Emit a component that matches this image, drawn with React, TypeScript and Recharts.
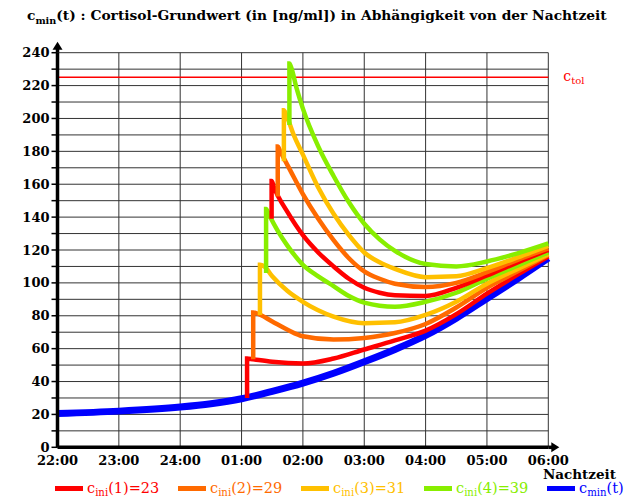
import { LineChart, Line, XAxis, YAxis, CartesianGrid, ReferenceLine, ReferenceDot } from 'recharts'

// hours after 22:00
const hourTicks = [0, 1, 2, 3, 4, 5, 6, 7, 8]
const hourLabels = ['22:00', '23:00', '24:00', '01:00', '02:00', '03:00', '04:00', '05:00', '06:00']
const yTicks = [0, 10, 20, 30, 40, 50, 60, 70, 80, 90, 100, 110, 120, 130, 140, 150, 160, 170, 180, 190, 200, 210, 220, 230, 240]
const cTol = 225
const cIni = [23, 29, 31, 39]

// c_min(t): baseline
const cMinT = [0, 1, 2, 2.5, 3, 3.5, 4, 4.5, 5, 5.5, 6, 6.5, 7, 7.5, 8]
const cMinV = [20.5, 22, 24.5, 26.5, 29.5, 34, 39, 45, 52, 59.5, 68, 78.5, 90.5, 102.5, 115]

// first round of doses
const red1T = [3.09, 3.09, 3.19, 3.5, 4, 4.5, 5, 5.5, 6, 6.5, 7, 7.5, 8]
const red1V = [30, 54, 53.5, 52, 51, 54, 59.5, 65, 71, 81, 93.5, 105, 116]
const orange1T = [3.19, 3.19, 3.25, 3.5, 3.75, 4, 4.5, 5, 5.5, 6, 6.5, 7, 7.5, 8]
const orange1V = [53.5, 82, 81.5, 76.5, 71.5, 67.5, 65.5, 66.5, 69.5, 75, 85, 97, 107, 117]
const yellow1T = [3.3, 3.3, 3.37, 3.5, 3.75, 4, 4.5, 5, 5.5, 6, 6.5, 7, 7.5, 8]
const yellow1V = [80.5, 111, 110, 104, 95, 88.5, 79.5, 75.5, 76, 80.5, 88.5, 99.5, 108.5, 117.5]
const green1T = [3.4, 3.4, 3.44, 3.6, 3.75, 4, 4.25, 4.5, 4.75, 5, 5.5, 6, 6.5, 7, 7.5, 8]
const green1V = [106, 145, 142, 131, 122.5, 111, 104, 98, 92, 88, 85.5, 88.5, 94, 102.5, 110.5, 118.5]

// second round of doses
const red2T = [3.49, 3.49, 3.53, 3.75, 4, 4.25, 4.5, 4.75, 5, 5.25, 5.5, 6, 6.5, 7, 7.5, 8]
const red2V = [139, 162, 158, 143, 129, 118.5, 110, 102.5, 97, 94, 92.5, 92, 97, 104.5, 112.5, 120]
const orange2T = [3.59, 3.59, 3.63, 3.8, 4, 4.25, 4.5, 4.75, 5, 5.25, 5.5, 6, 6.5, 7, 7.5, 8]
const orange2V = [152.5, 183, 180, 168, 154, 139, 126, 115, 107, 102.5, 99.5, 97.5, 100, 106.5, 114, 121]
const yellow2T = [3.69, 3.69, 3.73, 3.85, 4, 4.25, 4.5, 4.75, 5, 5.25, 5.5, 6, 6.5, 7, 7.5, 8]
const yellow2V = [174, 205, 202, 190, 178, 158, 142, 129, 118.5, 112.5, 108.5, 103.5, 104, 109, 115.5, 122.5]
const green2T = [3.78, 3.78, 3.81, 3.9, 4, 4.25, 4.5, 4.75, 5, 5.25, 5.5, 6, 6.5, 7, 7.5, 8]
const green2V = [196, 233.5, 231, 218, 206, 183, 165, 149, 136, 126.5, 119.5, 111.5, 110, 113, 118, 124]

const RED = '#ff0000'
const ORANGE = '#ff6a00'
const YELLOW = '#ffc000'
const GREEN = '#88ee00'
const BLUE = '#0000ff'
const FONT = '"DejaVu Serif", "Liberation Serif", serif'

const pts = (ts: number[], vs: number[]) => ts.map((t, i) => ({ t, v: vs[i] }))

const curves = [
  { key: 'red1', color: RED, data: pts(red1T, red1V) },
  { key: 'orange1', color: ORANGE, data: pts(orange1T, orange1V) },
  { key: 'yellow1', color: YELLOW, data: pts(yellow1T, yellow1V) },
  { key: 'green1', color: GREEN, data: pts(green1T, green1V) },
  { key: 'red2', color: RED, data: pts(red2T, red2V) },
  { key: 'orange2', color: ORANGE, data: pts(orange2T, orange2V) },
  { key: 'yellow2', color: YELLOW, data: pts(yellow2T, yellow2V) },
  { key: 'green2', color: GREEN, data: pts(green2T, green2V) },
]

const legendColors = [RED, ORANGE, YELLOW, GREEN]
const legendLeft = [55, 178, 301, 424, 547]

const subStyle = { fontSize: '70%', verticalAlign: '-4px', lineHeight: 0 }
const legendSub = { fontSize: '70%', verticalAlign: '-3px', lineHeight: 0 }

function CtolLabel(props: any) {
  const vb = props.viewBox || {}
  const x = vb.x + vb.width + 15
  const y = vb.y + 4
  return (
    <text x={x} y={y} fill={RED} fontFamily={FONT} fontSize={14}>
      c<tspan fontSize={10} dy={3}>tol</tspan>
    </text>
  )
}

const xArrow = (p: any) => (
  <g>
    <line x1={p.cx} y1={p.cy} x2={p.cx + 6} y2={p.cy} stroke="#000" strokeWidth={3.5} />
    <path d={`M${p.cx + 3},${p.cy - 5} L${p.cx + 11},${p.cy} L${p.cx + 3},${p.cy + 5} Z`} fill="#000" />
  </g>
)

const yArrow = (p: any) => (
  <g>
    <line x1={p.cx} y1={p.cy} x2={p.cx} y2={p.cy - 6} stroke="#000" strokeWidth={3.5} />
    <path d={`M${p.cx - 5},${p.cy - 3} L${p.cx},${p.cy - 11} L${p.cx + 5},${p.cy - 3} Z`} fill="#000" />
  </g>
)

export default function App() {
  return (
    <div style={{ position: 'absolute', left: 0, top: 0, width: 624, height: 499, overflow: 'hidden', background: '#fff' }}>
      <LineChart width={624} height={499} margin={{ top: 52.7, right: 75.7, left: 7.5, bottom: 21.7 }}>
        <CartesianGrid stroke="#333" strokeWidth={1} />
        <XAxis
          dataKey="t"
          type="number"
          domain={[0, 8]}
          ticks={hourTicks}
          tickFormatter={(v: number) => hourLabels[v]}
          height={30}
          tickLine={false}
          tickSize={0}
          tickMargin={8}
          axisLine={{ stroke: '#000', strokeWidth: 3.5 }}
          tick={{ fontSize: 13, fontWeight: 'bold', fill: '#000', fontFamily: FONT }}
          interval={0}
        />
        <YAxis
          type="number"
          domain={[0, 240]}
          ticks={yTicks}
          tickFormatter={(v: number) => (v % 20 === 0 ? String(v) : '')}
          width={50}
          tickSize={6}
          tickMargin={2}
          tickLine={{ stroke: '#000', strokeWidth: 1.5 }}
          axisLine={{ stroke: '#000', strokeWidth: 3.5 }}
          tick={{ fontSize: 13, fontWeight: 'bold', fill: '#000', fontFamily: FONT }}
          interval={0}
        />
        <ReferenceLine y={cTol} stroke={RED} strokeWidth={1.5} label={CtolLabel} />
        <Line
          data={pts(cMinT, cMinV)}
          dataKey="v"
          type="monotone"
          stroke={BLUE}
          strokeWidth={7}
          dot={false}
          activeDot={false}
          isAnimationActive={false}
        />
        {curves.map(c => (
          <Line
            key={c.key}
            data={c.data}
            dataKey="v"
            type="monotone"
            stroke={c.color}
            strokeWidth={4.5}
            dot={false}
            activeDot={false}
            isAnimationActive={false}
          />
        ))}
        <ReferenceDot x={8} y={0} ifOverflow="visible" shape={xArrow} />
        <ReferenceDot x={0} y={240} ifOverflow="visible" shape={yArrow} />
      </LineChart>

      <div style={{ position: 'absolute', left: 27, top: 7, fontFamily: FONT, fontWeight: 'bold', fontSize: 13.8, lineHeight: '17px', whiteSpace: 'nowrap', color: '#000' }}>
        c<span style={subStyle}>min</span>(t) : Cortisol-Grundwert (in [ng/ml]) in Abhängigkeit von der Nachtzeit
      </div>

      <div style={{ position: 'absolute', left: 543, top: 468, fontFamily: FONT, fontWeight: 'bold', fontSize: 13.5, lineHeight: '13px', color: '#000' }}>
        Nachtzeit
      </div>

      {legendLeft.map((left, i) => {
        const color = i < 4 ? legendColors[i] : BLUE
        return (
          <div key={i} style={{ position: 'absolute', left, top: 480, display: 'flex', alignItems: 'center', whiteSpace: 'nowrap', fontFamily: FONT, fontSize: 14.5, lineHeight: '16px', color }}>
            <div style={{ width: 28, height: 5, background: color, marginRight: 4 }} />
            {i < 4 ? (
              <span>c<span style={legendSub}>ini</span>({i + 1})={cIni[i]}</span>
            ) : (
              <span>c<span style={legendSub}>min</span>(t)</span>
            )}
          </div>
        )
      })}
    </div>
  )
}
